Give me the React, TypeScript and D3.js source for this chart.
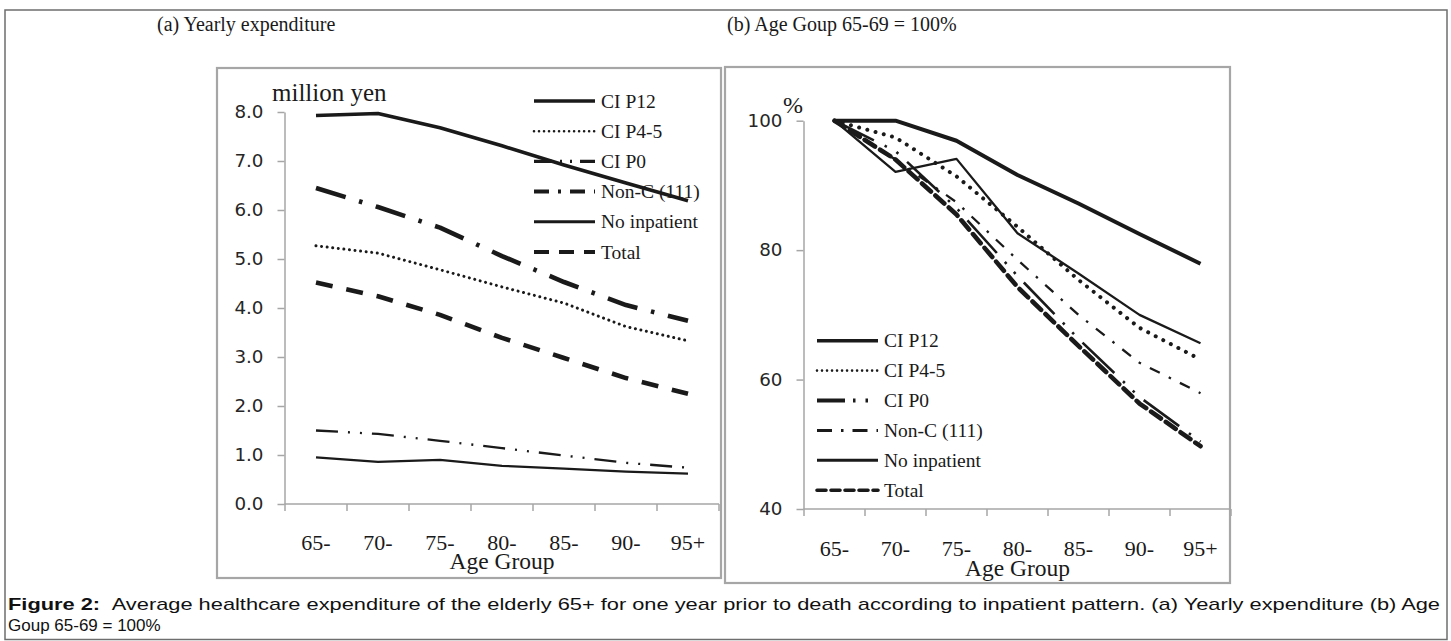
import React, { useEffect, useRef } from "react";
import * as d3 from "d3";

const categories = ["65-", "70-", "75-", "80-", "85-", "90-", "95+"];
const seriesNames = ["CI P12", "CI P4-5", "CI P0", "Non-C (111)", "No inpatient", "Total"];

// (a) Yearly expenditure, million yen
const expCIP12 = [7.93, 7.97, 7.68, 7.31, 6.92, 6.55, 6.19];
const expCIP45 = [5.27, 5.12, 4.78, 4.43, 4.1, 3.62, 3.33];
const expCIP0 = [1.5, 1.43, 1.29, 1.14, 0.99, 0.84, 0.74];
const expNonC = [6.45, 6.06, 5.64, 5.06, 4.53, 4.06, 3.74];
const expNoInp = [0.95, 0.86, 0.9, 0.78, 0.72, 0.66, 0.62];
const expTotal = [4.52, 4.24, 3.86, 3.39, 2.98, 2.57, 2.25];

// (b) Age group 65-69 = 100%
const pctCIP12 = [100, 100, 96.9, 91.6, 87.2, 82.5, 77.9];
const pctCIP45 = [100, 97.4, 91.4, 83.6, 75.4, 68.0, 63.1];
const pctCIP0 = [100, 95.3, 86.5, 76.0, 66.3, 57.3, 50.4];
const pctNonC = [100, 94.0, 87.4, 78.5, 70.0, 62.6, 57.9];
const pctNoInp = [100, 92.1, 94.1, 82.6, 76.4, 70.0, 65.6];
const pctTotal = [100, 94.0, 85.5, 74.3, 65.2, 56.3, 49.7];

const ticksA = [0, 1, 2, 3, 4, 5, 6, 7, 8];
const ticksB = [40, 60, 80, 100];

const titleA = "(a) Yearly expenditure";
const titleB = "(b) Age Goup 65-69 = 100%";
const unitA = "million yen";
const unitB = "%";
const xTitle = "Age Group";
const captionBold = "Figure 2:";
const captionLine1 =
  "Average healthcare expenditure of the elderly 65+ for one year prior to death according to inpatient pattern.  (a) Yearly expenditure (b) Age";
const captionLine2 = "Goup 65-69 = 100%";

const SERIF = "'Liberation Serif', 'Times New Roman', serif";
const SANS_TICK = "'DejaVu Sans', sans-serif";
const SANS = "'Liberation Sans', Arial, sans-serif";
const INK = "#1a1a1a";
const GRAY = "#a6a6a6";

type Style = { w: number; dash: string | null; cap: string; lw: number; ldash: string | null };

const stylesA: Style[] = [
  { w: 3.6, dash: null, cap: "butt", lw: 3.6, ldash: null },
  { w: 3, dash: "0.01,5.6", cap: "round", lw: 2.6, ldash: "0.01,5" },
  { w: 2.3, dash: "22,10,2,10,2,10", cap: "butt", lw: 3.2, ldash: "18,8,2,8,2,8" },
  { w: 4.6, dash: "31,14,3.5,14", cap: "butt", lw: 4, ldash: "15,9,3,9" },
  { w: 2.3, dash: null, cap: "butt", lw: 3, ldash: null },
  { w: 4.6, dash: "17,14", cap: "butt", lw: 4, ldash: "15,10" },
];

const stylesB: Style[] = [
  { w: 4, dash: null, cap: "butt", lw: 3.6, ldash: null },
  { w: 4, dash: "0.01,8.5", cap: "round", lw: 2.6, ldash: "0.01,5" },
  { w: 2.6, dash: "44,12,2.5,11,2.5,12", cap: "butt", lw: 4, ldash: "28,8,2.5,10,2.5,20" },
  { w: 2.3, dash: "11,10,2.5,10", cap: "butt", lw: 3, ldash: "15,9,2.5,9" },
  { w: 2.3, dash: null, cap: "butt", lw: 3, ldash: null },
  { w: 4.6, dash: "12,6", cap: "round", lw: 3.6, ldash: "9,5" },
];

export default function App() {
  const ref = useRef<SVGSVGElement | null>(null);

  useEffect(() => {
    const svg = d3.select(ref.current);
    svg.selectAll("*").remove();

    // outer figure border
    svg
      .append("rect")
      .attr("x", 5)
      .attr("y", 10)
      .attr("width", 1442)
      .attr("height", 629.5)
      .attr("fill", "none")
      .attr("stroke", "#6e6e6e")
      .attr("stroke-width", 1.5);

    // titles
    svg
      .append("text")
      .attr("x", 157)
      .attr("y", 31)
      .attr("font-family", SERIF)
      .attr("font-size", 20)
      .attr("fill", INK)
      .text(titleA);
    svg
      .append("text")
      .attr("x", 727)
      .attr("y", 31)
      .attr("font-family", SERIF)
      .attr("font-size", 20)
      .attr("fill", INK)
      .text(titleB);

    const panel = (cfg: {
      frame: [number, number, number, number];
      xRange: [number, number];
      yDomain: [number, number];
      yRange: [number, number];
      yTicks: number[];
      fmt: (d: number) => string;
      data: number[][];
      styles: Style[];
      legendX: number;
      legendY: number;
      legendGap: number;
      labelBaseline: number;
      titleBaseline: number;
      unit: string;
      unitX: number;
      unitY: number;
      unitSize: number;
    }) => {
      const g = svg.append("g");
      const [fx, fy, fw, fh] = cfg.frame;
      g.append("rect")
        .attr("x", fx)
        .attr("y", fy)
        .attr("width", fw)
        .attr("height", fh)
        .attr("fill", "#fff")
        .attr("stroke", GRAY)
        .attr("stroke-width", 2.2);

      const x = d3.scaleBand<string>().domain(categories).range(cfg.xRange).padding(0);
      const y = d3.scaleLinear().domain(cfg.yDomain).range(cfg.yRange);
      const x0 = cfg.xRange[0];
      const yBase = y(cfg.yDomain[0]);

      // y axis
      const yAxis = d3
        .axisLeft(y)
        .tickValues(cfg.yTicks)
        .tickSize(7)
        .tickSizeOuter(0)
        .tickPadding(14)
        .tickFormat((d: any) => cfg.fmt(d as number));
      const ya = g.append("g").attr("transform", `translate(${x0 - 0.5},0)`).call(yAxis);
      ya.select(".domain").attr("stroke", GRAY).attr("stroke-width", 1.5);
      ya.selectAll(".tick line").attr("stroke", GRAY).attr("stroke-width", 1.5);
      ya.selectAll(".tick text")
        .attr("font-family", SANS_TICK)
        .attr("font-size", 18.3)
        .attr("fill", "#262626");

      // x axis line & boundary ticks
      g.append("line")
        .attr("x1", x0 - 0.5)
        .attr("x2", cfg.xRange[1])
        .attr("y1", yBase)
        .attr("y2", yBase)
        .attr("stroke", GRAY)
        .attr("stroke-width", 1.5);
      g.selectAll(".xt")
        .data(d3.range(categories.length + 1))
        .join("line")
        .attr("x1", (i) => x0 + i * x.step())
        .attr("x2", (i) => x0 + i * x.step())
        .attr("y1", yBase)
        .attr("y2", yBase + 7)
        .attr("stroke", GRAY)
        .attr("stroke-width", 1.5);
      g.selectAll(".xl")
        .data(categories)
        .join("text")
        .attr("x", (c) => (x(c) as number) + x.bandwidth() / 2)
        .attr("y", cfg.labelBaseline)
        .attr("text-anchor", "middle")
        .attr("font-family", SERIF)
        .attr("font-size", 22)
        .attr("fill", INK)
        .text((c) => c);
      g.append("text")
        .attr("x", (cfg.xRange[0] + cfg.xRange[1]) / 2)
        .attr("y", cfg.titleBaseline)
        .attr("text-anchor", "middle")
        .attr("font-family", SERIF)
        .attr("font-size", 23.5)
        .attr("fill", INK)
        .text(xTitle);

      // unit label
      g.append("text")
        .attr("x", cfg.unitX)
        .attr("y", cfg.unitY)
        .attr("font-family", SERIF)
        .attr("font-size", cfg.unitSize)
        .attr("fill", INK)
        .text(cfg.unit);

      // series lines
      const line = d3
        .line<number>()
        .x((_, i) => (x(categories[i]) as number) + x.bandwidth() / 2)
        .y((d) => y(d));
      cfg.data.forEach((vals, k) => {
        const s = cfg.styles[k];
        g.append("path")
          .attr("d", line(vals) as string)
          .attr("fill", "none")
          .attr("stroke", INK)
          .attr("stroke-width", s.w)
          .attr("stroke-linejoin", "round")
          .attr("stroke-linecap", s.cap)
          .attr("stroke-dasharray", s.dash ?? null);
      });

      // legend
      seriesNames.forEach((name, k) => {
        const s = cfg.styles[k];
        const cy = cfg.legendY + k * cfg.legendGap;
        g.append("line")
          .attr("x1", cfg.legendX)
          .attr("x2", cfg.legendX + 61)
          .attr("y1", cy)
          .attr("y2", cy)
          .attr("stroke", INK)
          .attr("stroke-width", s.lw)
          .attr("stroke-linecap", s.cap)
          .attr("stroke-dasharray", s.ldash ?? null);
        g.append("text")
          .attr("x", cfg.legendX + 67)
          .attr("y", cy + 6.5)
          .attr("font-family", SERIF)
          .attr("font-size", 19.5)
          .attr("fill", INK)
          .text(name);
      });
    };

    panel({
      frame: [217, 68, 504, 510],
      xRange: [285, 719],
      yDomain: [0, 8],
      yRange: [504, 112],
      yTicks: ticksA,
      fmt: d3.format(".1f"),
      data: [expCIP12, expCIP45, expCIP0, expNonC, expNoInp, expTotal],
      styles: stylesA,
      legendX: 534,
      legendY: 101,
      legendGap: 30.2,
      labelBaseline: 550,
      titleBaseline: 569,
      unit: unitA,
      unitX: 272,
      unitY: 101,
      unitSize: 25,
    });

    panel({
      frame: [725, 67, 505, 516],
      xRange: [804, 1231],
      yDomain: [40, 100],
      yRange: [509, 120.7],
      yTicks: ticksB,
      fmt: d3.format("d"),
      data: [pctCIP12, pctCIP45, pctCIP0, pctNonC, pctNoInp, pctTotal],
      styles: stylesB,
      legendX: 817,
      legendY: 340.7,
      legendGap: 29.9,
      labelBaseline: 556,
      titleBaseline: 576,
      unit: unitB,
      unitX: 783,
      unitY: 113,
      unitSize: 24,
    });

    // caption
    const cap1 = svg
      .append("text")
      .attr("x", 8)
      .attr("y", 610)
      .attr("font-family", SANS)
      .attr("font-size", 17)
      .attr("fill", "#111")
      .attr("textLength", 1432)
      .attr("lengthAdjust", "spacingAndGlyphs");
    cap1.append("tspan").attr("font-weight", "bold").text(captionBold);
    cap1.append("tspan").attr("dx", 9).text(captionLine1);
    svg
      .append("text")
      .attr("x", 8)
      .attr("y", 631)
      .attr("font-family", SANS)
      .attr("font-size", 17)
      .attr("fill", "#111")
      .text(captionLine2);
  }, []);

  return (
    <svg
      ref={ref}
      width={1451}
      height={641}
      style={{ position: "absolute", left: 0, top: 0, background: "#fff" }}
    />
  );
}
